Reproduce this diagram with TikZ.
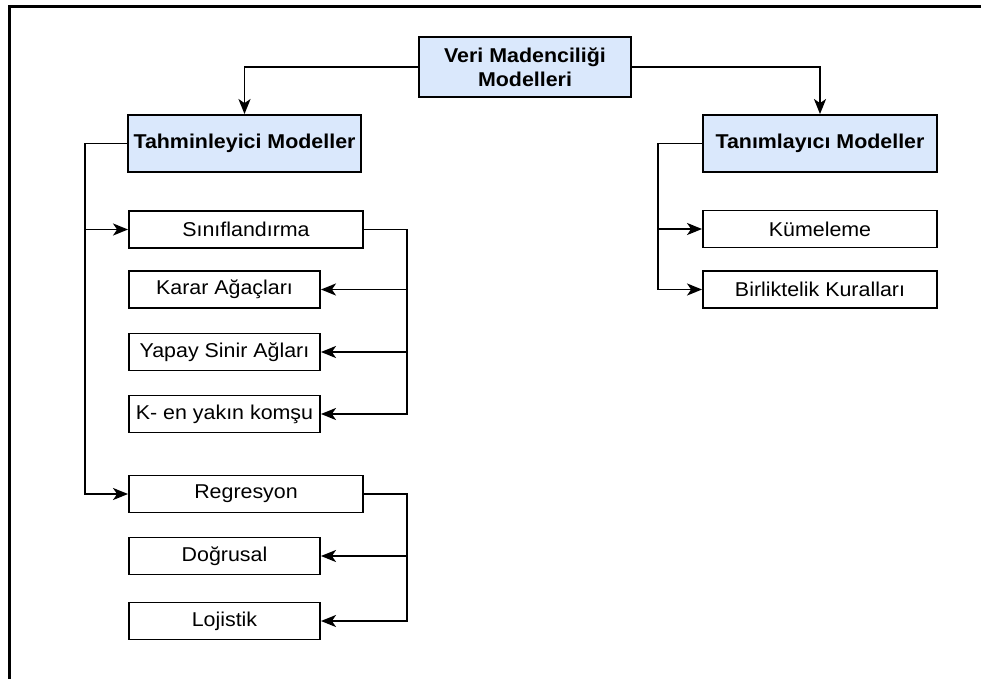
\documentclass[tikz,border=0pt]{standalone}
\usepackage{fontspec}
\setmainfont{Liberation Sans}[FakeStretch=1.07]
\usetikzlibrary{arrows.meta}
\definecolor{headblue}{HTML}{DAE8FC}
\tikzset{
  modelbox/.style={draw=black, line width=1.9pt, fill=white, inner sep=0pt,
    minimum height=37pt, font=\fontsize{20}{24}\selectfont},
  headbox/.style={modelbox, fill=headblue, minimum height=57pt, font=\fontsize{20}{24}\selectfont\bfseries},
  conn/.style={line width=1.9pt, -{Stealth[length=15pt,width=12pt,inset=4pt]}}
}
\begin{document}
\begin{tikzpicture}[x=1pt,y=-1pt]
        \useasboundingbox (0,0) rectangle (981,678);
        % frame
        \draw[line width=3pt] (9,690) -- (9,6) -- (990,6);

        % heads
        \node[headbox, minimum width=212pt, minimum height=60pt, align=center] (veri) at (525,67) {Veri Madenciliği\\Modelleri};
        \node[headbox, minimum width=233pt] (tahmin) at (244.5,143.5) {Tahminleyici Modeller};
        \node[headbox, minimum width=234pt] (tanim) at (820,143.5) {Tanımlayıcı Modeller};

        % left column
        \node[modelbox, minimum width=234pt] (sinif) at (246,229.5) {Sınıflandırma};
        \node[modelbox, minimum width=191pt] (karar) at (224.5,289.5) {Karar Ağaçları};
        \node[modelbox, minimum width=191pt] (yapay) at (224.5,352) {Yapay Sinir Ağları};
        \node[modelbox, minimum width=191pt] (komsu) at (224.5,414) {K- en yakın komşu};
        \node[modelbox, minimum width=234pt] (regres) at (246,494) {Regresyon};
        \node[modelbox, minimum width=191pt] (dogru) at (224.5,556) {Doğrusal};
        \node[modelbox, minimum width=191pt] (lojis) at (224.5,621) {Lojistik};

        % right column
        \node[modelbox, minimum width=234pt] (kume) at (820,229) {Kümeleme};
        \node[modelbox, minimum width=234pt] (birlik) at (820,289.5) {Birliktelik Kuralları};

        % connectors
        \draw[conn] (veri.west) -| (tahmin.north);
        \draw[conn] (veri.east) -| (tanim.north);

        \draw[conn] (tahmin.west) -- ++(-42,0) |- (sinif.west);
        \draw[conn] (tahmin.west) -- ++(-42,0) |- (regres.west);

        \draw[conn] (sinif.east) -- ++(43,0) |- (karar.east);
        \draw[conn] (sinif.east) -- ++(43,0) |- (yapay.east);
        \draw[conn] (sinif.east) -- ++(43,0) |- (komsu.east);

        \draw[conn] (regres.east) -- ++(43,0) |- (dogru.east);
        \draw[conn] (regres.east) -- ++(43,0) |- (lojis.east);

        \draw[conn] (tanim.west) -- ++(-44,0) |- (kume.west);
        \draw[conn] (tanim.west) -- ++(-44,0) |- (birlik.west);
    \end{tikzpicture}
\end{document}
